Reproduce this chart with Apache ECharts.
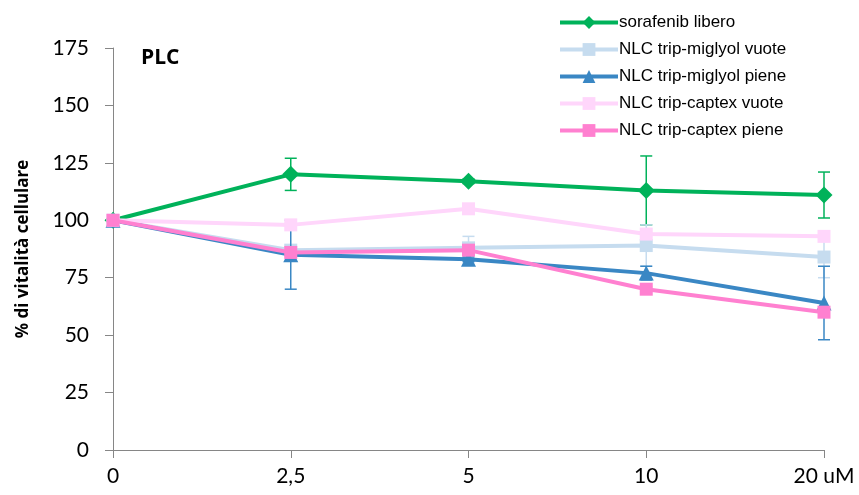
<!DOCTYPE html>
<html>
<head>
<meta charset="utf-8">
<script src="https://cdn.jsdelivr.net/npm/echarts@6/dist/echarts.min.js"></script>
<style>
  html, body { margin: 0; padding: 0; background: #fff; }
  #chart { width: 859px; height: 495px; }
</style>
</head>
<body>
<div id="chart"></div>
<script>
  // x categories (concentration)
  var doses = ['0', '2,5', '5', '10', '20 uM'];
  var yTicks = [0, 25, 50, 75, 100, 125, 150, 175];

  // series values (% vitalita cellulare)
  var sorafenib = [100, 120, 117, 113, 111];
  var miglyolVuote = [100, 87, 88, 89, 84];
  var miglyolPiene = [100, 85, 83, 77, 64];
  var captexVuote = [100, 98, 105, 94, 93];
  var captexPiene = [100, 86, 87, 70, 60];

  // error (+/-), 0 = no bar
  var sorafenibErr = [0, 7, 1, 15, 10];
  var miglyolVuoteErr = [0, 1, 5, 9, 9];
  var miglyolPieneErr = [0, 15, 1, 3, 16];
  var captexVuoteErr = [0, 0, 0, 0, 0];
  var captexPieneErr = [0, 1, 1, 1, 1];

  var names = ['sorafenib libero', 'NLC trip-miglyol vuote', 'NLC trip-miglyol piene', 'NLC trip-captex vuote', 'NLC trip-captex piene'];
  var colors = ['#00b25a', '#c6dcef', '#3a87c4', '#ffd6fb', '#ff80d0'];
  var symbols = ['diamond', 'rect', 'triangle', 'rect', 'rect'];
  var sizes = [17, 13, 15, 13, 13];
  var vals = [sorafenib, miglyolVuote, miglyolPiene, captexVuote, captexPiene];
  var errs = [sorafenibErr, miglyolVuoteErr, miglyolPieneErr, captexVuoteErr, captexPieneErr];

  function errBars(v, e) {
    var out = [];
    for (var i = 0; i < v.length; i++) {
      if (e[i]) out.push([i, v[i] - e[i], v[i] + e[i]]);
    }
    return out;
  }

  function renderErr(params, api) {
    var lo = api.coord([api.value(0), api.value(1)]);
    var hi = api.coord([api.value(0), api.value(2)]);
    var w = 6;
    var st = { stroke: api.visual('color'), lineWidth: 1.5 };
    return {
      type: 'group',
      children: [
        { type: 'line', shape: { x1: lo[0], y1: lo[1], x2: hi[0], y2: hi[1] }, style: st },
        { type: 'line', shape: { x1: lo[0] - w, y1: lo[1], x2: lo[0] + w, y2: lo[1] }, style: st },
        { type: 'line', shape: { x1: hi[0] - w, y1: hi[1], x2: hi[0] + w, y2: hi[1] }, style: st }
      ]
    };
  }

  var series = [];
  for (var k = 0; k < names.length; k++) {
    series.push({
      type: 'custom',
      renderItem: renderErr,
      data: errBars(vals[k], errs[k]),
      itemStyle: { color: colors[k] },
      encode: { x: 0, y: [1, 2] },
      z: 2 + k * 2,
      silent: true
    });
    series.push({
      name: names[k],
      type: 'line',
      data: vals[k],
      symbol: symbols[k],
      symbolSize: sizes[k],
      lineStyle: { width: 4, color: colors[k] },
      itemStyle: { color: colors[k] },
      z: 3 + k * 2,
      animation: false
    });
  }

  var chart = echarts.init(document.getElementById('chart'));
  chart.setOption({
    animation: false,
    grid: { left: 113, right: 35, top: 48, bottom: 45 },
    title: {
      text: 'PLC', left: 136, top: 43,
      textStyle: { fontFamily: 'Open Sans', fontWeight: 'bold', fontSize: 21, color: '#000' }
    },
    legend: {
      data: names,
      orient: 'vertical',
      left: 553,
      top: 9,
      itemWidth: 58,
      itemHeight: 16,
      itemGap: 10,
      lineStyle: { width: 4 },
      textStyle: { fontFamily: 'Liberation Sans', fontSize: 17, color: '#000', padding: [0, 0, 0, -4] }
    },
    xAxis: {
      type: 'category',
      data: doses,
      boundaryGap: false,
      axisLine: { lineStyle: { color: '#868686', width: 1 } },
      axisTick: { show: true, length: 8, lineStyle: { color: '#868686' } },
      axisLabel: { fontFamily: 'Lato', fontSize: 21, color: '#000', margin: 16 }
    },
    yAxis: {
      type: 'value',
      min: 0, max: 175, interval: 25,
      name: '% di vitalità cellulare',
      nameLocation: 'middle',
      nameGap: 81,
      nameTextStyle: { fontFamily: 'Open Sans', fontWeight: 'bold', fontSize: 17, color: '#000' },
      axisLine: { show: true, lineStyle: { color: '#868686', width: 1 } },
      axisTick: { show: true, length: 8, lineStyle: { color: '#868686' } },
      splitLine: { show: false },
      axisLabel: {
        fontFamily: 'Lato', fontSize: 21, color: '#000', margin: 24,
        formatter: function (v) { return yTicks.indexOf(v) >= 0 ? String(v) : ''; }
      }
    },
    series: series
  });
</script>
</body>
</html>
